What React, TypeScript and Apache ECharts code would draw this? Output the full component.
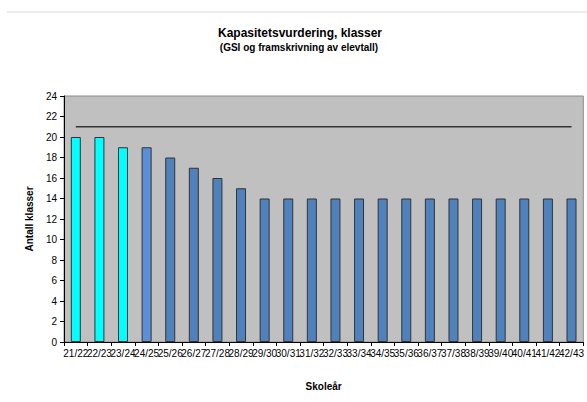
import React, { useEffect, useRef } from "react";
import * as echarts from "echarts";

const categories = [
  "21/22", "22/23", "23/24", "24/25", "25/26", "26/27", "27/28", "28/29",
  "29/30", "30/31", "31/32", "32/33", "33/34", "34/35", "35/36", "36/37",
  "37/38", "38/39", "39/40", "40/41", "41/42", "42/43",
];
const classes = [20, 20, 19, 19, 18, 17, 16, 15, 14, 14, 14, 14, 14, 14, 14, 14, 14, 14, 14, 14, 14, 14];
const capacity = [21, 21, 21, 21, 21, 21, 21, 21, 21, 21, 21, 21, 21, 21, 21, 21, 21, 21, 21, 21, 21, 21];
const barColors = [
  "#00ffff", "#00ffff", "#00ffff", "#5b8fd8", "#4f81bd", "#4f81bd", "#4f81bd", "#4f81bd",
  "#4f81bd", "#4f81bd", "#4f81bd", "#4f81bd", "#4f81bd", "#4f81bd", "#4f81bd", "#4f81bd",
  "#4f81bd", "#4f81bd", "#4f81bd", "#4f81bd", "#4f81bd", "#4f81bd",
];
const titleText = "Kapasitetsvurdering, klasser";
const subtitleText = "(GSI og framskrivning av elevtall)";
const yTitle = "Antall klasser";
const xTitle = "Skoleår";

const FONT = "Arial, 'Liberation Sans', sans-serif";

export default function App() {
  const ref = useRef<HTMLDivElement>(null);
  useEffect(() => {
    document.body.style.margin = "0";
    const chart = echarts.init(ref.current!, null, { renderer: "svg" });
    chart.setOption({
      animation: false,
      backgroundColor: "#ffffff",
      textStyle: { fontFamily: FONT },
      graphic: [
        {
          type: "line",
          shape: { x1: 7, y1: 12, x2: 587, y2: 12 },
          style: { stroke: "#ebebeb", lineWidth: 2 },
        },
        {
          type: "text",
          x: 300,
          y: 33,
          style: {
            text: titleText,
            align: "center",
            verticalAlign: "middle",
            font: `bold 12px ${FONT}`,
            fill: "#000",
          },
        },
        {
          type: "text",
          x: 299,
          y: 47,
          style: {
            text: subtitleText,
            align: "center",
            verticalAlign: "middle",
            font: `bold 10px ${FONT}`,
            fill: "#000",
          },
        },
      ],
      grid: {
        left: 64,
        right: 3,
        top: 96,
        bottom: 60,
        show: true,
        backgroundColor: "#c0c0c0",
        borderColor: "#8c8c8c",
        borderWidth: 1,
      },
      xAxis: {
        type: "category",
        data: categories,
        name: xTitle,
        nameLocation: "middle",
        nameGap: 39,
        nameTextStyle: { fontWeight: "bold", fontSize: 10, color: "#000", fontFamily: FONT },
        axisLine: { lineStyle: { color: "#000", width: 1 } },
        axisTick: { show: true, length: 4, lineStyle: { color: "#000" } },
        axisLabel: { interval: 0, fontSize: 10, color: "#000", margin: 6, fontFamily: FONT },
      },
      yAxis: {
        type: "value",
        min: 0,
        max: 24,
        interval: 2,
        name: yTitle,
        nameLocation: "middle",
        nameRotate: 90,
        nameGap: 30,
        nameTextStyle: { fontWeight: "bold", fontSize: 10, color: "#000", fontFamily: FONT },
        axisLine: { show: true, lineStyle: { color: "#000", width: 1 } },
        axisTick: { show: true, length: 4, lineStyle: { color: "#000" } },
        axisLabel: { fontSize: 10, color: "#000", margin: 7, fontFamily: FONT },
        splitLine: { show: false },
      },
      series: [
        {
          type: "bar",
          data: classes.map((v, i) => ({ value: v, itemStyle: { color: barColors[i] } })),
          barWidth: 10,
          itemStyle: { borderColor: "#333", borderWidth: 1 },
        },
        {
          type: "line",
          data: capacity,
          symbol: "none",
          lineStyle: { color: "#333", width: 1.5 },
          itemStyle: { color: "#333" },
        },
      ],
    });
    return () => chart.dispose();
  }, []);
  return <div ref={ref} style={{ width: 587, height: 402 }} />;
}
